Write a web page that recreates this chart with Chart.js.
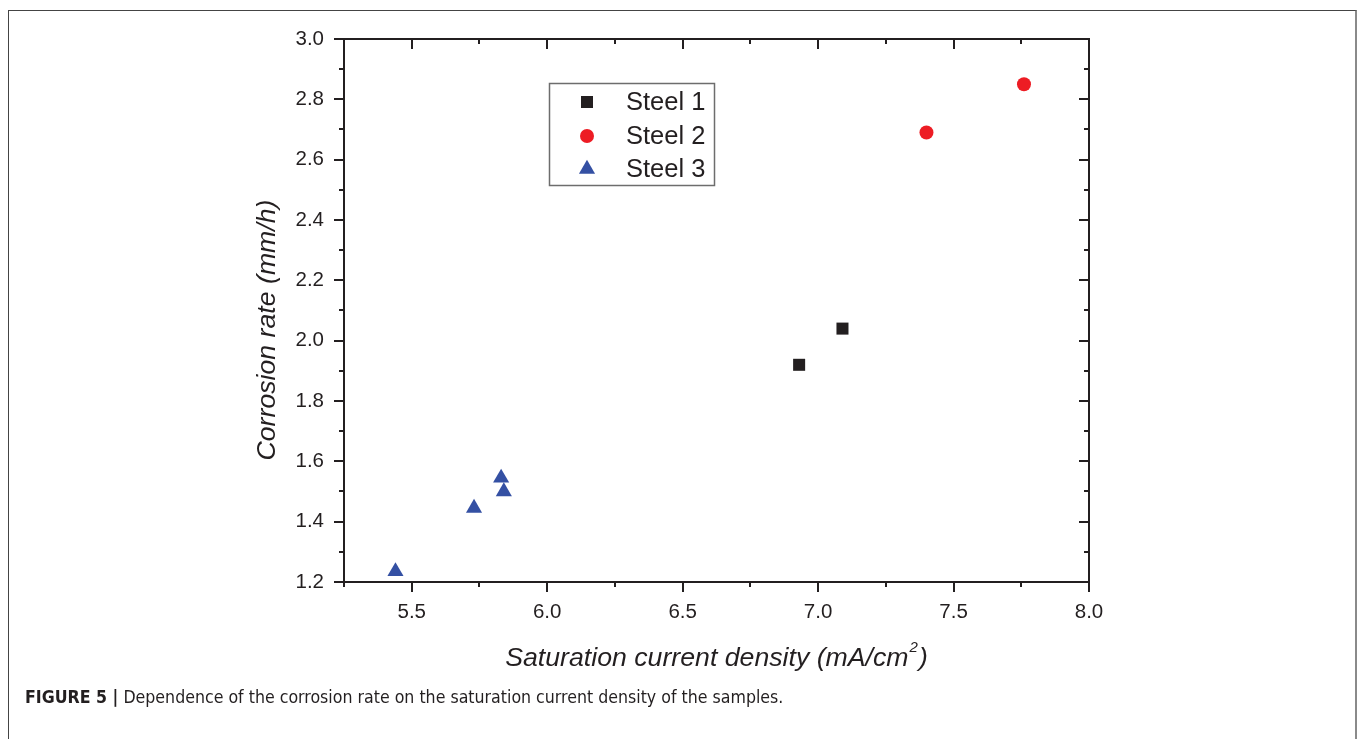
<!DOCTYPE html>
<html>
<head>
<meta charset="utf-8">
<script src="https://cdn.jsdelivr.net/npm/chart.js@4.4.1/dist/chart.umd.min.js"></script>
<style>
  html, body { margin: 0; padding: 0; background: #fff; }
  #wrap { position: relative; width: 1358px; height: 739px; overflow: hidden; }
  #frame { position: absolute; left: 8px; top: 10px; width: 1346px; height: 780px;
           border: 1px solid #444; border-right: 2px solid #8a8a8a; }
  #caption { position: absolute; left: 25px; top: 687px; color: #231f20;
             font-family: "Liberation Sans Narrow", "DejaVu Sans Condensed", "Liberation Sans", sans-serif;
             font-size: 17.6px; white-space: nowrap; }
  #caption b { font-weight: bold; }
  canvas { position: absolute; left: 0; top: 0; }
</style>
</head>
<body>
<div id="wrap">
  <div id="frame"></div>
  <canvas id="scatter" width="1358" height="739"></canvas>
  <div id="caption"><b>FIGURE 5 |</b> Dependence of the corrosion rate on the saturation current density of the samples.</div>
</div>
<script>
// ---------- data ----------
const seriesNames = ['Steel 1', 'Steel 2', 'Steel 3'];
const steel1X = [6.93, 7.09];
const steel1Y = [1.92, 2.04];
const steel2X = [7.40, 7.76];
const steel2Y = [2.69, 2.85];
const steel3X = [5.44, 5.73, 5.83, 5.84];
const steel3Y = [1.235, 1.445, 1.545, 1.50];

const xTicks = [5.5, 6.0, 6.5, 7.0, 7.5, 8.0];
const xMinor = [5.25, 5.75, 6.25, 6.75, 7.25, 7.75];
const yTicks = [1.2, 1.4, 1.6, 1.8, 2.0, 2.2, 2.4, 2.6, 2.8, 3.0];
const yMinor = [1.3, 1.5, 1.7, 1.9, 2.1, 2.3, 2.5, 2.7, 2.9];

const xTitle = 'Saturation current density (mA/cm';
const yTitle = 'Corrosion rate (mm/h)';

const ink = '#231f20';
const colors = ['#231f20', '#ed1c24', '#3450a3'];
const styles = ['rect', 'circle', 'triangle'];
const radii = [8.5, 7, 9.3];

function toPoints(xs, ys) {
  return xs.map((x, i) => ({ x: x, y: ys[i] }));
}

// ---------- frame, ticks, titles and legend ----------
const titleFont = 'italic 26.7px "Liberation Sans", Arial, sans-serif';
const supFont = 'italic 15px "Liberation Sans", Arial, sans-serif';

const framePlugin = {
  id: 'frame',
  afterDraw(chart) {
    const ctx = chart.ctx;
    const a = chart.chartArea;
    const xs = chart.scales.x, ys = chart.scales.y;
    ctx.save();
    ctx.strokeStyle = ink;
    ctx.lineWidth = 2;
    ctx.strokeRect(a.left, a.top, a.right - a.left, a.bottom - a.top);

    ctx.beginPath();
    xTicks.forEach(v => {
      const p = Math.round(xs.getPixelForValue(v));
      ctx.moveTo(p, a.bottom); ctx.lineTo(p, a.bottom + 10);
      ctx.moveTo(p, a.top); ctx.lineTo(p, a.top + 10);
    });
    xMinor.forEach(v => {
      const p = Math.round(xs.getPixelForValue(v));
      ctx.moveTo(p, a.bottom); ctx.lineTo(p, a.bottom + 5);
      ctx.moveTo(p, a.top); ctx.lineTo(p, a.top + 5);
    });
    yTicks.forEach(v => {
      const p = Math.round(ys.getPixelForValue(v));
      ctx.moveTo(a.left, p); ctx.lineTo(a.left - 10, p);
      ctx.moveTo(a.right, p); ctx.lineTo(a.right - 10, p);
    });
    yMinor.forEach(v => {
      const p = Math.round(ys.getPixelForValue(v));
      ctx.moveTo(a.left, p); ctx.lineTo(a.left - 5, p);
      ctx.moveTo(a.right, p); ctx.lineTo(a.right - 5, p);
    });
    ctx.stroke();

    // axis titles
    ctx.fillStyle = ink;
    ctx.textBaseline = 'middle';
    ctx.textAlign = 'left';
    ctx.font = titleFont;
    const w1 = ctx.measureText(xTitle).width;
    const w3 = ctx.measureText(')').width;
    ctx.font = supFont;
    const w2 = ctx.measureText('2').width;
    const cx = (a.left + a.right) / 2;
    const tx = cx - (w1 + w2 + 2 + w3) / 2;
    ctx.font = titleFont;
    ctx.fillText(xTitle, tx, 659);
    ctx.fillText(')', tx + w1 + w2 + 2, 659);
    ctx.font = supFont;
    ctx.fillText('2', tx + w1 + 1, 648);

    ctx.font = titleFont;
    ctx.save();
    ctx.translate(268, 330);
    ctx.rotate(-Math.PI / 2);
    ctx.textAlign = 'center';
    ctx.fillText(yTitle, 0, 0);
    ctx.restore();

    // legend box
    ctx.strokeStyle = '#6d6d6d';
    ctx.lineWidth = 1.5;
    ctx.strokeRect(549.5, 83.5, 165, 102);
    const rows = [102, 136, 169];
    ctx.font = '25.5px "Liberation Sans", Arial, sans-serif';
    seriesNames.forEach((name, i) => {
      ctx.fillStyle = colors[i];
      Chart.helpers.drawPoint(ctx, { pointStyle: styles[i], radius: radii[i], rotation: 0, borderWidth: 0 }, 587, rows[i]);
      ctx.fillStyle = ink;
      ctx.fillText(name, 626, rows[i] + 1);
    });
    ctx.restore();
  }
};

const scatterData = {
  datasets: [
    { label: seriesNames[0], data: toPoints(steel1X, steel1Y) },
    { label: seriesNames[1], data: toPoints(steel2X, steel2Y) },
    { label: seriesNames[2], data: toPoints(steel3X, steel3Y) }
  ].map((d, i) => Object.assign(d, {
    pointStyle: styles[i],
    pointRadius: radii[i],
    pointHoverRadius: radii[i],
    backgroundColor: colors[i],
    borderColor: colors[i],
    borderWidth: 0
  }))
};

const tickFont = { family: '"Liberation Sans", Arial, sans-serif', size: 20.5 };

const config = {
  type: 'scatter',
  data: scatterData,
  options: {
    responsive: false,
    animation: false,
    events: [],
    layout: { padding: { left: 244, right: 269, top: 39, bottom: 97 } },
    plugins: { legend: { display: false }, tooltip: { enabled: false } },
    scales: {
      x: {
        type: 'linear', min: 5.25, max: 8.0,
        afterBuildTicks: s => { s.ticks = xTicks.map(v => ({ value: v })); },
        afterFit: s => { s.height = 60; },
        grid: { display: false, drawTicks: true, tickLength: 10 },
        border: { display: false },
        ticks: { color: ink, font: tickFont, padding: 8, maxRotation: 0, callback: v => v.toFixed(1) }
      },
      y: {
        type: 'linear', min: 1.2, max: 3.0,
        afterBuildTicks: s => { s.ticks = yTicks.map(v => ({ value: v })); },
        afterFit: s => { s.width = 100; },
        grid: { display: false, drawTicks: true, tickLength: 10 },
        border: { display: false },
        ticks: { color: ink, font: tickFont, padding: 10, callback: v => v.toFixed(1) }
      }
    }
  },
  plugins: [framePlugin]
};

const scatterChart = new Chart(document.getElementById('scatter'), config);
</script>
</body>
</html>
